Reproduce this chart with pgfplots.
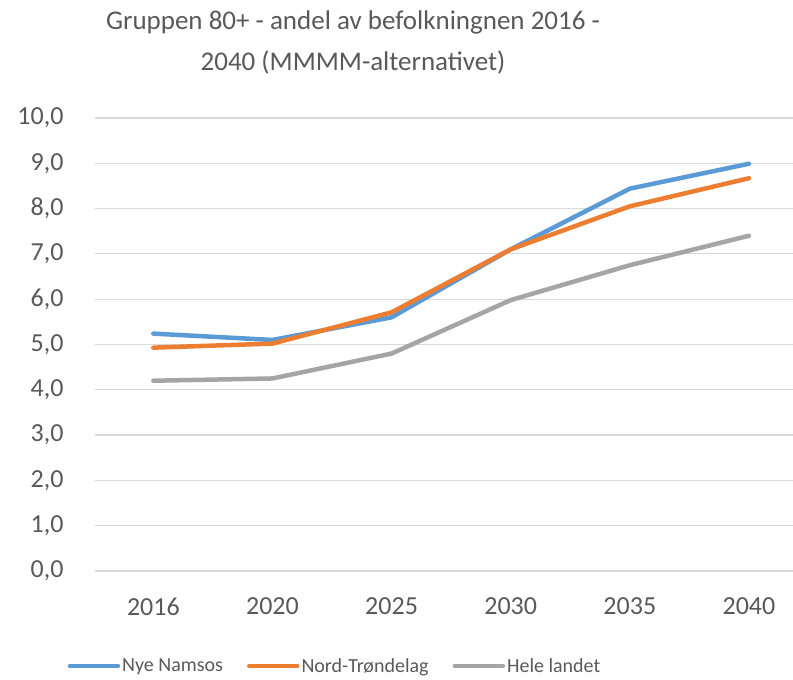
\documentclass[border=0pt]{standalone}
\usepackage{pgfplots}
\pgfplotsset{compat=1.18}
\usepackage{fontspec}
\setmainfont{Carlito}
\definecolor{cblue}{HTML}{5B9BD5}
\definecolor{corange}{HTML}{ED7D31}
\definecolor{cgray}{HTML}{A5A5A5}
\definecolor{gridc}{HTML}{D9D9D9}
\definecolor{txt}{HTML}{595959}
\begin{document}
\begin{tikzpicture}[x=1bp,y=1bp]
\path[use as bounding box] (0,0) rectangle (793,680);
\node[text=txt, font=\fontsize{27bp}{41bp}\selectfont, align=center] at (353,637)
  {Gruppen 80+ - andel av befolkningnen 2016 -\\2040 (MMMM-alternativet)};
\begin{axis}[
  at={(95bp,109bp)}, anchor=south west,
  scale only axis, width=698bp, height=453bp,
  xmin=-0.49, xmax=5.37, ymin=0, ymax=10,
  xtick={0,1,2,3,4,5},
  xticklabels={2016,2020,2025,2030,2035,2040},
  ytick={0,1,...,10},
  axis line style={draw=none},
  xtick style={draw=none}, ytick style={draw=none},
  xmajorgrids=false, ymajorgrids=true, grid style={draw=gridc, line width=1.2bp},
  tick label style={text=txt, font=\fontsize{26bp}{30bp}\selectfont},
  /pgf/number format/assume math mode=true,
  yticklabel={\pgfmathprintnumber[fixed,fixed zerofill,precision=1,use comma]{\tick}},
  yticklabel style={anchor=east, xshift=-28bp},
  xticklabel style={anchor=north, yshift=-23bp},
  clip=false,
  legend columns=3,
  legend style={at={(240bp,-95bp)}, anchor=center, draw=none, fill=none,
    font=\fontsize{20bp}{24bp}\selectfont, text=txt,
    /tikz/every even column/.append style={column sep=22bp}},
  legend cell align=left,
  legend image code/.code={\draw[#1, line width=4.5bp] (0bp,0bp) -- (48bp,0bp);},
  every axis plot/.append style={line width=4.5bp, line join=round, line cap=round, no marks},
]
\addplot[cblue] coordinates {(0,5.24) (1,5.10) (2,5.60) (3,7.10) (4,8.44) (5,8.99)};
\addlegendentry{Nye Namsos}
\addplot[corange] coordinates {(0,4.93) (1,5.02) (2,5.71) (3,7.10) (4,8.05) (5,8.67)};
\addlegendentry{Nord-Trøndelag}
\addplot[cgray] coordinates {(0,4.20) (1,4.25) (2,4.80) (3,5.98) (4,6.75) (5,7.40)};
\addlegendentry{Hele landet}
\end{axis}
\end{tikzpicture}
\end{document}
